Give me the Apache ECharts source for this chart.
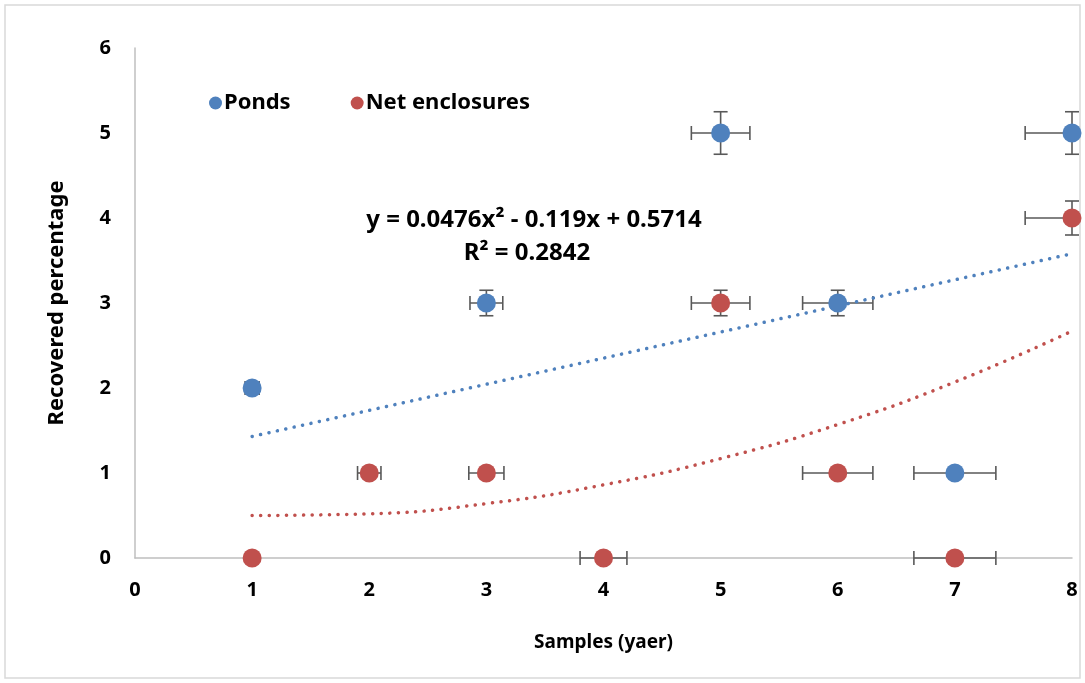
<!DOCTYPE html>
<html>
<head>
<meta charset="utf-8">
<script src="https://cdn.jsdelivr.net/npm/echarts@6/dist/echarts.min.js"></script>
<style>html,body{margin:0;padding:0;background:#fff}#c{width:1085px;height:683px}</style>
</head>
<body>
<div id="c"></div>
<script>
// ---- data ----
var xTicks = [0, 1, 2, 3, 4, 5, 6, 7, 8];
var yTicks = [0, 1, 2, 3, 4, 5, 6];

var pondsX    = [1, 3, 5, 6, 7, 8];
var pondsY    = [2, 3, 5, 3, 1, 5];
var pondsXErr = [0.06, 0.14, 0.25, 0.30, 0.35, 0.40];
var pondsYErr = [0.00, 0.15, 0.25, 0.15, 0.00, 0.25];

var netX    = [1, 2, 3, 4, 5, 6, 7, 8];
var netY    = [0, 1, 1, 0, 3, 1, 0, 4];
var netXErr = [0.00, 0.10, 0.15, 0.20, 0.25, 0.30, 0.35, 0.40];
var netYErr = [0.00, 0.00, 0.00, 0.00, 0.15, 0.00, 0.00, 0.20];

// trend lines
var pondsTrendX = [1, 8];
var pondsTrendY = [1.43, 3.58];
var netTrendX = [1, 2, 3, 4, 5, 6, 7, 8];
var netTrendY = [0.50, 0.52, 0.64, 0.86, 1.17, 1.57, 2.07, 2.67];

var eqLine1 = 'y = 0.0476x\u00B2 - 0.119x + 0.5714';
var eqLine2 = 'R\u00B2 = 0.2842';

// ---- build ----
var BLUE = '#4F81BD', RED = '#C0504D', ERR = '#595959';
var FONT = "'Noto Sans',sans-serif";
var X_MIN = xTicks[0], X_MAX = xTicks[xTicks.length - 1];

function zip(a, b) { return a.map(function (v, i) { return [v, b[i]]; }); }
function zip4(a, b, c, d) { return a.map(function (v, i) { return [v, b[i], c[i], d[i]]; }); }

function errRender(params, api) {
  var x = api.value(0), y = api.value(1), ex = api.value(2), ey = api.value(3);
  var c = api.coord([x, y]);
  var children = [];
  var st = { stroke: ERR, lineWidth: 1.6 };
  var cap = 7;
  if (ex > 0) {
    var lx = Math.max(X_MIN, x - ex), rx = Math.min(X_MAX, x + ex);
    var l = api.coord([lx, y]), r = api.coord([rx, y]);
    children.push({ type: 'line', shape: { x1: l[0], y1: c[1], x2: r[0], y2: c[1] }, style: st });
    if (lx === x - ex) children.push({ type: 'line', shape: { x1: l[0], y1: c[1] - cap, x2: l[0], y2: c[1] + cap }, style: st });
    if (rx === x + ex) children.push({ type: 'line', shape: { x1: r[0], y1: c[1] - cap, x2: r[0], y2: c[1] + cap }, style: st });
  }
  if (ey > 0) {
    var t = api.coord([x, y + ey]), b = api.coord([x, y - ey]);
    children.push({ type: 'line', shape: { x1: c[0], y1: t[1], x2: c[0], y2: b[1] }, style: st });
    children.push({ type: 'line', shape: { x1: c[0] - cap, y1: t[1], x2: c[0] + cap, y2: t[1] }, style: st });
    children.push({ type: 'line', shape: { x1: c[0] - cap, y1: b[1], x2: c[0] + cap, y2: b[1] }, style: st });
  }
  return { type: 'group', children: children };
}

var chart = echarts.init(document.getElementById('c'), null, { renderer: 'canvas' });
chart.setOption({
  animation: false,
  backgroundColor: '#fff',
  grid: { left: 135, right: 13, top: 48, bottom: 125, containLabel: false },
  xAxis: {
    type: 'value', min: X_MIN, max: X_MAX, interval: 1,
    name: 'Samples (yaer)', nameLocation: 'middle', nameGap: 75,
    nameTextStyle: { fontFamily: FONT, fontSize: 19, fontWeight: 'bold', color: '#000' },
    axisLine: { show: true, lineStyle: { color: '#BFBFBF', width: 1.5 } },
    axisTick: { show: false },
    splitLine: { show: false },
    axisLabel: { margin: 22, fontFamily: FONT, fontSize: 20, fontWeight: 'bold', color: '#000' }
  },
  yAxis: {
    type: 'value', min: yTicks[0], max: yTicks[yTicks.length - 1], interval: 1,
    name: 'Recovered percentage', nameLocation: 'middle', nameGap: 67,
    nameTextStyle: { fontFamily: FONT, fontSize: 22, fontWeight: 'bold', color: '#000' },
    axisLine: { show: true, lineStyle: { color: '#BFBFBF', width: 1.5 } },
    axisTick: { show: false },
    splitLine: { show: false },
    axisLabel: { margin: 24, fontFamily: FONT, fontSize: 20, fontWeight: 'bold', color: '#000' }
  },
  legend: {
    data: ['Ponds', 'Net enclosures'],
    left: 204, top: 87, itemGap: 60, itemWidth: 13, itemHeight: 13,
    icon: 'circle',
    textStyle: { fontFamily: FONT, fontSize: 22, fontWeight: 'bold', color: '#000', padding: [0, 0, 0, -3] }
  },
  graphic: [
    { type: 'rect', shape: { x: 5, y: 5, width: 1075, height: 673 }, style: { fill: 'none', stroke: '#D9D9D9', lineWidth: 1.5 }, silent: true },
    { type: 'text', style: { text: eqLine1, x: 534, y: 220, align: 'center', verticalAlign: 'middle', font: 'bold 24px ' + FONT, fill: '#000' } },
    { type: 'text', style: { text: eqLine2, x: 527, y: 253, align: 'center', verticalAlign: 'middle', font: 'bold 24px ' + FONT, fill: '#000' } }
  ],
  series: [
    { name: 'pondsTrend', type: 'line', data: zip(pondsTrendX, pondsTrendY), showSymbol: false, symbol: 'none', z: 3,
      lineStyle: { color: BLUE, width: 3.5, type: [0.1, 8.5], cap: 'round' } },
    { name: 'netTrend', type: 'line', data: zip(netTrendX, netTrendY), smooth: true, showSymbol: false, symbol: 'none', z: 3,
      lineStyle: { color: RED, width: 3.5, type: [0.1, 8.5], cap: 'round' } },
    { name: 'pondsErr', type: 'custom', renderItem: errRender, data: zip4(pondsX, pondsY, pondsXErr, pondsYErr), clip: false, z: 2, silent: true },
    { name: 'netErr', type: 'custom', renderItem: errRender, data: zip4(netX, netY, netXErr, netYErr), clip: false, z: 2, silent: true },
    { name: 'Ponds', type: 'scatter', data: zip(pondsX, pondsY), symbolSize: 19, itemStyle: { color: BLUE, opacity: 1 }, z: 4 },
    { name: 'Net enclosures', type: 'scatter', data: zip(netX, netY), symbolSize: 19, itemStyle: { color: RED, opacity: 1 }, z: 5 }
  ]
});
</script>
</body>
</html>
